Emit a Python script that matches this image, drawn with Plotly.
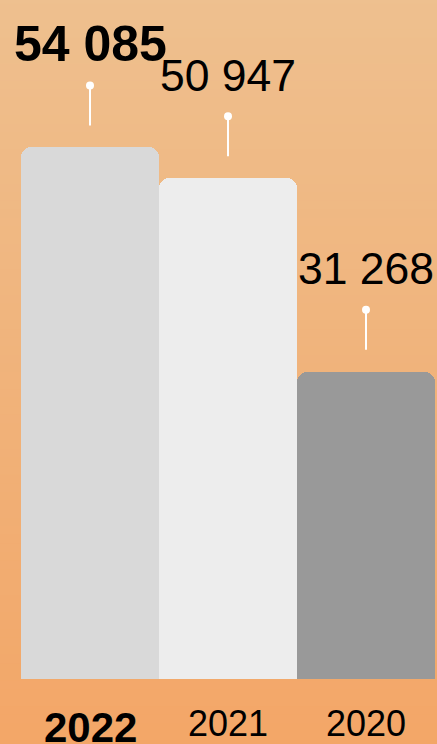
import plotly.graph_objects as go

# ---- data ----
years = ["2022", "2021", "2020"]
values = [54085, 50947, 31268]
value_labels = ["54 085", "50 947", "31 268"]
bar_colors = ["#d9d9d9", "#ededed", "#999999"]
highlight = [True, False, False]

W, H = 437, 744
ml, mr, mt, mb = 21, 2, 0, 65
plot_h = H - mt - mb
px_per_unit = 0.009828
ymax = plot_h / px_per_unit

FONT = "Liberation Sans, Arial, sans-serif"

fig = go.Figure(
    go.Bar(
        x=years,
        y=values,
        width=1,
        marker=dict(color=bar_colors, cornerradius=10, line=dict(width=0)),
        hoverinfo="skip",
    )
)

# background gradient (styling)
top_c = (238, 192, 143)
bot_c = (243, 166, 103)
N = 90
y_lo, y_hi = -mb / plot_h - 0.02, 1.02
for i in range(N):
    t = i / (N - 1)
    c = tuple(round(top_c[k] + (bot_c[k] - top_c[k]) * t) for k in range(3))
    y1 = y_hi - (y_hi - y_lo) * i / N
    y0 = y_hi - (y_hi - y_lo) * (i + 1) / N - 0.002
    fig.add_shape(type="rect", xref="paper", yref="paper",
                  x0=-0.1, x1=1.1, y0=y0, y1=y1,
                  fillcolor="rgb(%d,%d,%d)" % c, line=dict(width=0), layer="below")

gap, pin_len, label_off = 22, 40, 103
for idx, (yr, v, lab, hl) in enumerate(zip(years, values, value_labels, highlight)):
    # pin line
    fig.add_shape(type="line", xref="x", yref="y", x0=idx, x1=idx,
                  ysizemode="pixel", yanchor=v, y0=gap, y1=gap + pin_len,
                  line=dict(color="white", width=2))
    # pin dot
    fig.add_shape(type="circle", xref="x", yref="y",
                  xsizemode="pixel", xanchor=idx, x0=-4, x1=4,
                  ysizemode="pixel", yanchor=v, y0=gap + pin_len - 4, y1=gap + pin_len + 4,
                  fillcolor="white", line=dict(width=0))
    # value label
    fig.add_annotation(x=idx, y=v, xref="x", yref="y", showarrow=False,
                       yanchor="middle", yshift=label_off,
                       text=("<b>%s</b>" % lab) if hl else lab,
                       font=dict(family=FONT, size=50 if hl else 44.5, color="black"))
    # category label
    fig.add_annotation(x=idx, y=0, xref="x", yref="y", showarrow=False,
                       yanchor="middle", yshift=-48 if hl else -44.5,
                       text=("<b>%s</b>" % yr) if hl else yr,
                       font=dict(family=FONT, size=42 if hl else 36, color="black"))

fig.update_layout(
    width=W, height=H,
    margin=dict(l=ml, r=mr, t=mt, b=mb),
    paper_bgcolor="rgb(241,180,122)",
    plot_bgcolor="rgba(0,0,0,0)",
    bargap=0,
    showlegend=False,
    xaxis=dict(type="category", range=[-0.5, 2.5], visible=False, fixedrange=True),
    yaxis=dict(range=[0, ymax], visible=False, fixedrange=True),
)

fig.write_html(
    "out.html",
    config={"displayModeBar": False},
    post_script="document.body.style.margin='0';document.body.style.overflow='hidden';",
)
